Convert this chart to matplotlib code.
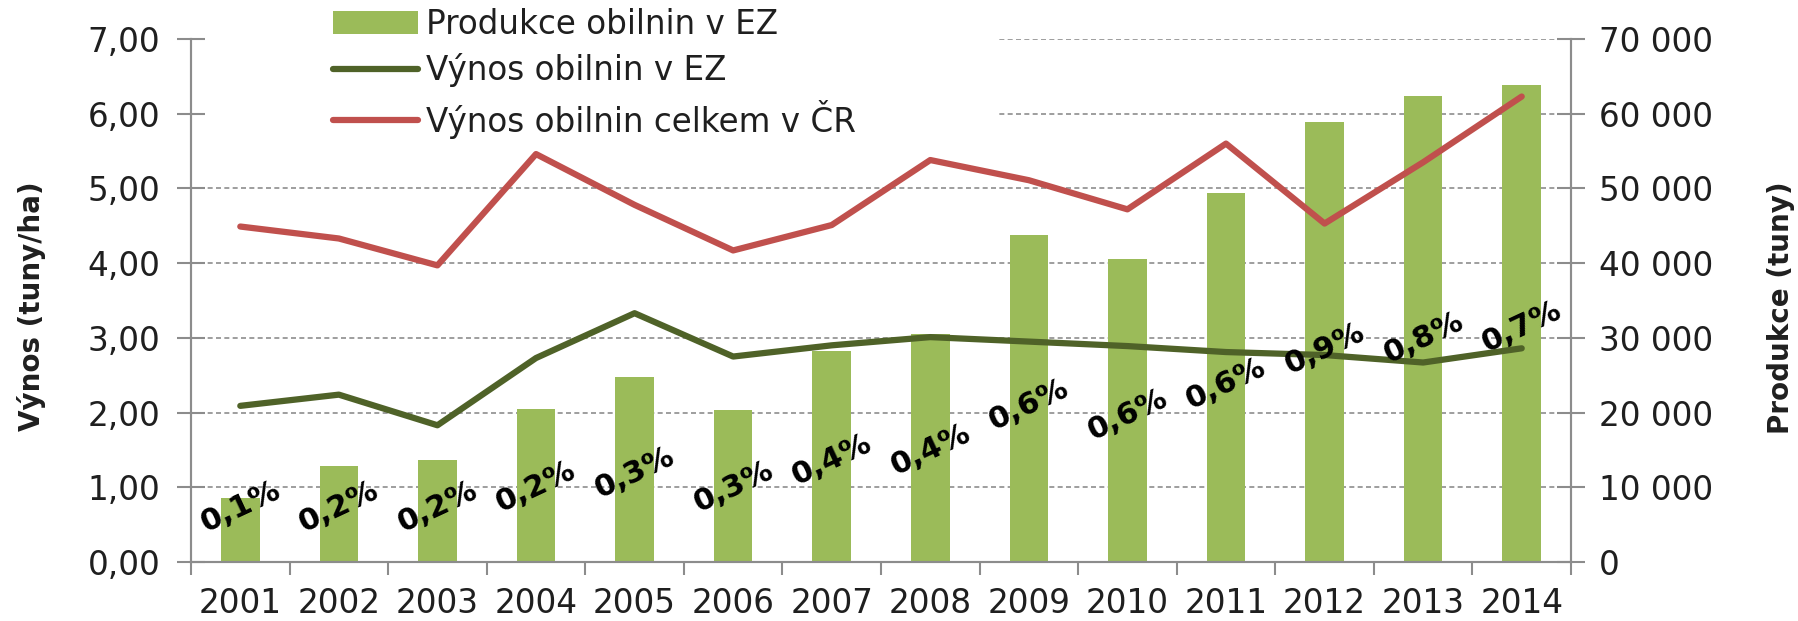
import numpy as np
import matplotlib
matplotlib.use("Agg")
import matplotlib.pyplot as plt
from matplotlib.patches import Rectangle
from matplotlib.ticker import FuncFormatter, MultipleLocator

# ---- data ----
years = ["2001", "2002", "2003", "2004", "2005", "2006", "2007",
         "2008", "2009", "2010", "2011", "2012", "2013", "2014"]
produkce_ez = [8600, 12900, 13600, 20500, 24700, 20300, 28200,
               30500, 43700, 40500, 49400, 58900, 62400, 63900]
vynos_ez = [2.09, 2.24, 1.83, 2.73, 3.33, 2.75, 2.90,
            3.01, 2.95, 2.89, 2.81, 2.77, 2.67, 2.86]
vynos_cr = [4.49, 4.33, 3.97, 5.46, 4.78, 4.17, 4.51,
            5.38, 5.11, 4.72, 5.60, 4.53, 5.35, 6.23]
podil_labels = ["0,1%", "0,2%", "0,2%", "0,2%", "0,3%", "0,3%", "0,4%",
                "0,4%", "0,6%", "0,6%", "0,6%", "0,9%", "0,8%", "0,7%"]
# vertical anchor of each share label (left-axis units, placed manually in original)
podil_label_pos = [0.74, 0.74, 0.74, 1.01, 1.19, 1.00, 1.37,
                   1.50, 2.10, 1.97, 2.39, 2.86, 3.00, 3.15]

legend_labels = ["Produkce obilnin v EZ", "Výnos obilnin v EZ",
                 "Výnos obilnin celkem v ČR"]

# ---- style ----
C_BAR = "#9BBB59"
C_EZ = "#4F6228"
C_CR = "#C0504D"
C_AX = "#8C8C8C"
C_TXT = "#1F1F1F"
FS = 23.5

plt.rcParams["font.family"] = ["DejaVu Sans"]

W, H = 1799, 621
fig = plt.figure(figsize=(W / 100, H / 100), dpi=100)
L, R, T, B = 191, 1571, 39, 562
ax_bar = fig.add_axes([L / W, 1 - B / H, (R - L) / W, (B - T) / H])
ax_line = ax_bar.twinx()

x = np.arange(len(years))

# bars (right axis)
bars = ax_bar.bar(x, produkce_ez, width=0.39, color=C_BAR, zorder=2,
                  label=legend_labels[0])
ax_bar.set_ylim(0, 70000)
ax_bar.set_xlim(-0.5, len(years) - 0.5)
ax_bar.yaxis.set_major_locator(MultipleLocator(10000))
ax_bar.yaxis.set_major_formatter(
    FuncFormatter(lambda v, p: f"{int(v):,}".replace(",", " ")))
ax_bar.set_axisbelow(True)
ax_bar.grid(axis="y", color="#8E8E8E", linestyle=(0, (3, 2)), linewidth=1.2,
            zorder=0.5)
ax_bar.yaxis.tick_right()

# white area behind the legend (hides gridlines)
ax_bar.add_patch(Rectangle((0.0, 0.826), 0.584, 0.174, transform=ax_bar.transAxes,
                           facecolor="white", edgecolor="none", zorder=0.8))

# lines (left axis)
l_ez, = ax_line.plot(x, vynos_ez, color=C_EZ, linewidth=4.5, zorder=3,
                     solid_joinstyle="round", solid_capstyle="round",
                     label=legend_labels[1])
l_cr, = ax_line.plot(x, vynos_cr, color=C_CR, linewidth=4.5, zorder=3,
                     solid_joinstyle="round", solid_capstyle="round",
                     label=legend_labels[2])
ax_line.set_ylim(0, 7)
ax_line.yaxis.set_major_locator(MultipleLocator(1))
ax_line.yaxis.set_major_formatter(FuncFormatter(lambda v, p: f"{v:.2f}".replace(".", ",")))
ax_line.yaxis.tick_left()

for lab, xi, yi in zip(podil_labels, x, podil_label_pos):
    ax_line.text(xi, yi, lab, rotation=25, rotation_mode="anchor",
                 ha="center", va="center", fontsize=22, fontweight="bold",
                 color="black", zorder=5)

# axis titles
fig.text(32 / W, 1 - 306 / H, "Výnos (tuny/ha)", rotation=90, ha="center",
         va="center", fontsize=20, fontweight="bold", color=C_TXT)
fig.text(1781 / W, 1 - 308 / H, "Produkce (tuny)", rotation=90, ha="center",
         va="center", fontsize=20, fontweight="bold", color=C_TXT)

# x axis: boundary ticks + centered year labels
ax_bar.set_xticks(np.arange(len(years) + 1) - 0.5)
ax_bar.set_xticklabels([])
ax_bar.set_xticks(x, minor=True)
ax_bar.set_xticklabels(years, minor=True)
ax_bar.tick_params(axis="x", which="major", direction="out", length=9.5,
                   width=1.5, color=C_AX)
ax_bar.tick_params(axis="x", which="minor", length=0, pad=18, labelsize=FS,
                   labelcolor=C_TXT)

ax_bar.tick_params(axis="y", direction="inout", length=20, width=1.5,
                   color=C_AX, labelsize=FS, labelcolor=C_TXT, pad=10)
ax_line.tick_params(axis="y", direction="inout", length=20, width=1.5,
                    color=C_AX, labelsize=FS, labelcolor=C_TXT, pad=12)

for a in (ax_bar, ax_line):
    a.spines["top"].set_visible(False)
    for s in ("left", "right", "bottom"):
        a.spines[s].set_color(C_AX)
        a.spines[s].set_linewidth(1.5)
    a.patch.set_visible(False)
ax_line.tick_params(axis="x", which="both", length=0, labelbottom=False)

fig.legend(handles=[bars, l_ez, l_cr], labels=legend_labels,
           loc="upper left", bbox_to_anchor=(333 / W, 1 - 8 / H),
           frameon=False, fontsize=FS, handlelength=2.6, handletextpad=0.25,
           labelspacing=0.38, borderpad=0, borderaxespad=0,
           labelcolor=C_TXT)

fig.savefig("out.png", dpi=100, facecolor="white")
